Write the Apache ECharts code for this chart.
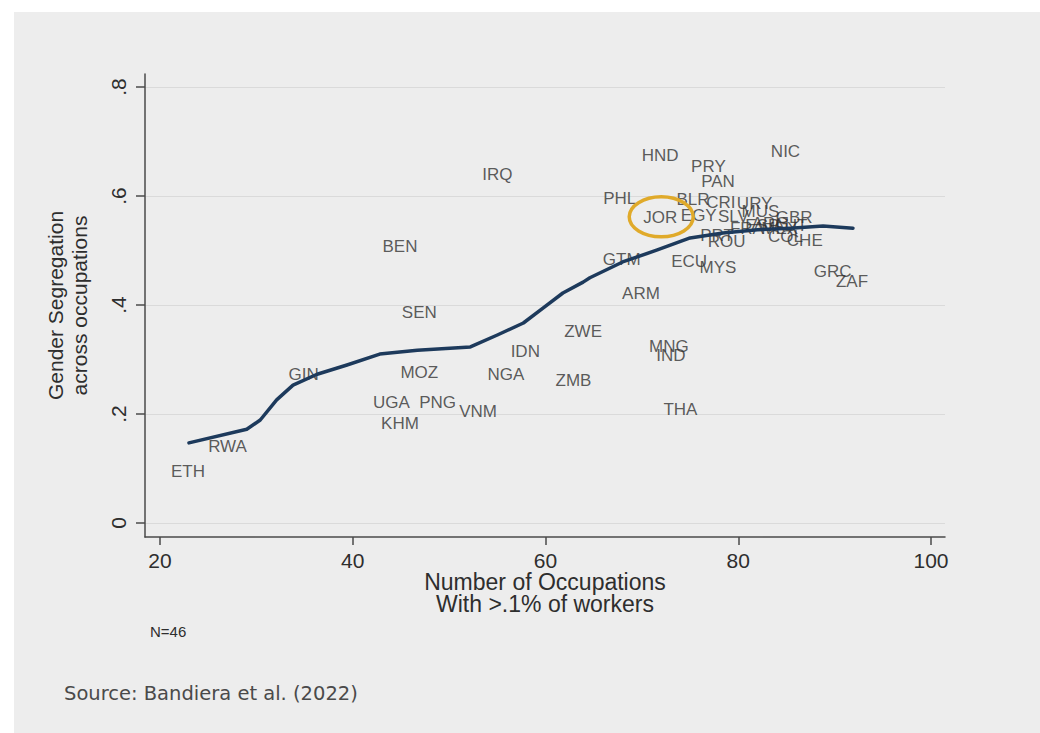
<!DOCTYPE html>
<html>
<head>
<meta charset="utf-8">
<script src="https://cdn.jsdelivr.net/npm/echarts@6/dist/echarts.min.js"></script>
<style>
  html, body { margin: 0; padding: 0; background: #ffffff; }
  #chart { width: 1040px; height: 733px; }
</style>
</head>
<body>
<div id="chart"></div>
<script>
// Country codes with occupational breadth and gender segregation index
const countries = [
  'ETH','RWA','GIN','BEN','SEN','MOZ','UGA','PNG','KHM','VNM',
  'IRQ','IDN','NGA','ZWE','ZMB','GTM','ARM','PHL','JOR','HND',
  'PRY','PAN','NIC','ECU','MYS','MNG','IND','THA','GRC','ZAF',
  'CHE','GBR','BLR','CRI','URY','EGY','SLV','MUS','FRA','ROU',
  'PRT','COL','ARG','MEX','ESP','AUT'
];
const occupations = [
  22.9, 27.0, 34.9, 44.9, 46.9, 46.9, 44.0, 48.8, 44.9, 53.0,
  55.0, 57.9, 55.9, 63.9, 62.9, 67.9, 69.9, 67.7, 71.9, 71.9,
  76.9, 77.9, 84.9, 74.9, 77.9, 72.8, 73.0, 74.0, 89.8, 91.8,
  86.9, 85.8, 75.3, 78.2, 81.7, 75.9, 79.5, 82.3, 80.9, 78.8,
  77.8, 84.9, 83.3, 84.3, 82.5, 85.4
];
const segregation = [
  0.094, 0.141, 0.272, 0.508, 0.387, 0.277, 0.222, 0.222, 0.182, 0.204,
  0.640, 0.314, 0.272, 0.352, 0.262, 0.484, 0.422, 0.596, 0.560, 0.675,
  0.655, 0.626, 0.681, 0.479, 0.468, 0.323, 0.308, 0.209, 0.461, 0.444,
  0.519, 0.560, 0.593, 0.589, 0.587, 0.565, 0.563, 0.571, 0.541, 0.516,
  0.528, 0.525, 0.549, 0.541, 0.545, 0.545
];

// Lowess fit of segregation on number of occupations
const lowessX = [
  23.0, 29.0, 30.4, 32.1, 33.8, 36.3, 39.4, 42.8, 46.7, 52.2,
  55.0, 57.7, 59.7, 61.8, 63.9, 64.6, 68.0, 71.6, 75.0, 78.4,
  82.0, 85.4, 88.8, 91.9
];
const lowessY = [
  0.147, 0.172, 0.189, 0.226, 0.253, 0.273, 0.290, 0.310, 0.317, 0.323,
  0.345, 0.367, 0.394, 0.422, 0.442, 0.450, 0.479, 0.501, 0.523, 0.532,
  0.538, 0.541, 0.545, 0.541
];

const xTicks = [20, 40, 60, 80, 100];
const yTicks = [0, 0.2, 0.4, 0.6, 0.8];
const highlighted = 'JOR';

const textColor = '#2e2e2e';
const axisColor = '#4a4a4a';

const chart = echarts.init(document.getElementById('chart'), null, { renderer: 'svg' });

const scatterData = countries.map((c, i) => ({ name: c, value: [occupations[i], segregation[i]] }));
const lowessData = lowessX.map((x, i) => [x, lowessY[i]]);

const option = {
  backgroundColor: 'transparent',
  animation: false,
  grid: { left: 145, top: 74, right: 95, bottom: 196, containLabel: false },
  xAxis: {
    type: 'value',
    min: 18.44,
    max: 101.45,
    name: 'Number of Occupations\nWith >.1% of workers',
    nameLocation: 'middle',
    nameGap: 34,
    nameMoveOverlap: false,
    nameTextStyle: { fontFamily: 'Liberation Sans', fontSize: 23, color: textColor, lineHeight: 22 },
    axisLine: { show: true, onZero: false, lineStyle: { color: axisColor, width: 1.5 } },
    axisTick: { show: true, length: 8, customValues: xTicks, lineStyle: { color: axisColor, width: 1.5 } },
    axisLabel: {
      customValues: xTicks,
      margin: 13,
      fontFamily: 'Liberation Sans', fontSize: 21, color: textColor
    },
    splitLine: { show: false }
  },
  yAxis: {
    type: 'value',
    min: -0.0257,
    max: 0.8239,
    name: 'Gender Segregation\nacross occupations',
    nameLocation: 'middle',
    nameRotate: 90,
    nameGap: 54,
    nameTextStyle: { fontFamily: 'Liberation Sans', fontSize: 21, color: textColor, lineHeight: 24 },
    axisLine: { show: true, onZero: false, lineStyle: { color: axisColor, width: 1.5 } },
    axisTick: { show: true, length: 9, customValues: yTicks, lineStyle: { color: axisColor, width: 1.5 } },
    axisLabel: {
      customValues: yTicks,
      rotate: 90,
      margin: 16,
      fontFamily: 'Liberation Sans', fontSize: 21, color: textColor,
      formatter: v => (Math.abs(v) < 1e-9 ? '0' : String(+v.toFixed(1)).replace(/^0/, ''))
    },
    splitLine: { show: true, lineStyle: { color: '#dadada', width: 1 } }
  },
  series: [
    {
      type: 'scatter',
      data: scatterData,
      symbolSize: 0,
      z: 3,
      label: {
        show: true,
        position: 'inside',
        formatter: p => p.name,
        fontFamily: 'Liberation Sans',
        fontSize: 17,
        color: '#333333'
      },
      emphasis: { disabled: true }
    },
    {
      type: 'line',
      data: lowessData,
      showSymbol: false,
      smooth: false,
      z: 4,
      lineStyle: { color: '#1d3a5c', width: 3.5, cap: 'round', join: 'round' },
      emphasis: { disabled: true }
    }
  ],
  graphic: [
    {
      id: 'panel', type: 'rect', z: -10, silent: true,
      shape: { x: 14, y: 12, width: 1026, height: 721 },
      style: { fill: '#ededed' }
    },
    {
      id: 'count', type: 'text', left: 150, top: 624, silent: true,
      style: { text: 'N=46', fontFamily: 'Liberation Sans', fontSize: 15, fill: textColor }
    },
    {
      id: 'source', type: 'text', left: 64, top: 683, silent: true,
      style: { text: 'Source: Bandiera et al. (2022)', fontFamily: 'DejaVu Sans', fontSize: 19.5, fill: '#4a4a4a' }
    }
  ]
};

chart.setOption(option);

// Gold ellipse highlighting one country's label
const hi = countries.indexOf(highlighted);
const centre = chart.convertToPixel({ gridIndex: 0 }, [occupations[hi], segregation[hi]]);
chart.setOption({
  graphic: [
    {
      id: 'highlight', type: 'ellipse', z: 20, silent: true,
      shape: { cx: centre[0] + 1, cy: centre[1] - 1, rx: 32, ry: 20 },
      style: { fill: 'none', stroke: '#e0aa2a', lineWidth: 3.5 }
    }
  ]
});
</script>
</body>
</html>
